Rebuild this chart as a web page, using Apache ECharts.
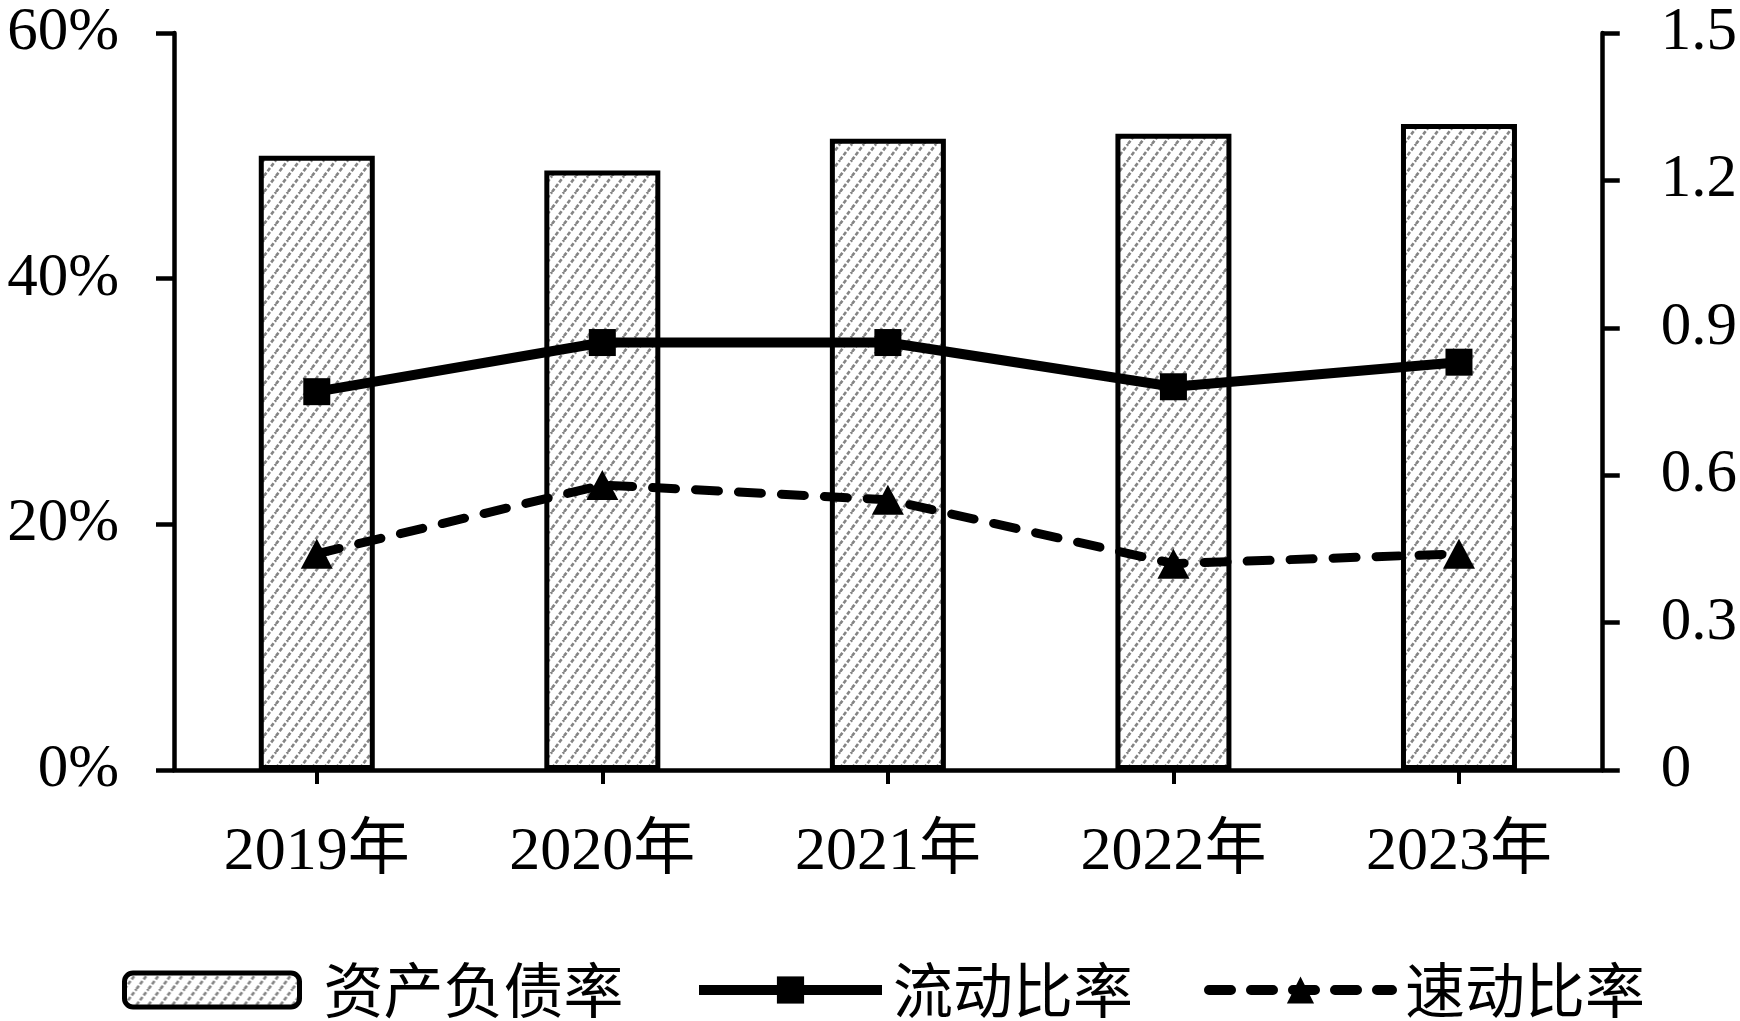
<!DOCTYPE html>
<html><head><meta charset="utf-8">
<script src="https://cdn.jsdelivr.net/npm/echarts@6/dist/echarts.min.js"></script>
<style>html,body{margin:0;padding:0;background:#fff}#c{width:1740px;height:1021px}</style>
</head><body><div id="c"></div>
<script>
const categories = ['2019年', '2020年', '2021年', '2022年', '2023年'];
const debtRatio = [50.0, 48.8, 51.4, 51.8, 52.6];      // 资产负债率 (%)
const currentRatio = [0.77, 0.87, 0.87, 0.78, 0.83];   // 流动比率
const quickRatio = [0.44, 0.58, 0.55, 0.42, 0.44];     // 速动比率
const seriesNames = ['资产负债率', '流动比率', '速动比率'];

function makePattern() {
  const w = 12, h = 16;
  const c = document.createElement('canvas');
  c.width = w; c.height = h;
  const g = c.getContext('2d');
  g.fillStyle = '#ffffff';
  g.fillRect(0, 0, w, h);
  g.strokeStyle = '#858585';
  g.lineWidth = 2.6;
  g.setLineDash([4, 2]);
  for (let k = -1; k <= 1; k++) {
    g.beginPath();
    g.moveTo(k * w, h);
    g.lineTo(k * w + w, 0);
    g.stroke();
  }
  return c;
}
const pattern = { image: makePattern(), repeat: 'repeat' };
const FONT = '"Liberation Serif","Times New Roman","Noto Sans CJK SC",serif';
const LFONT = '"Noto Sans CJK SC","Liberation Serif",serif';

const chart = echarts.init(document.getElementById('c'), null, { renderer: 'canvas' });
chart.setOption({
  animation: false,
  backgroundColor: '#ffffff',
  grid: { left: 174, right: 134, top: 33, bottom: 251, containLabel: false },
  legend: [
    { data: [seriesNames[0]], left: 122, top: 960, padding: 0, itemWidth: 175, itemHeight: 34,
      itemStyle: { borderWidth: 5, borderColor: '#000' },
      textStyle: { fontFamily: LFONT, fontSize: 60, color: '#000', padding: [0, 0, 0, 19] } },
    { data: [seriesNames[1]], left: 694, top: 960, padding: 0, itemWidth: 183, itemHeight: 34,
      lineStyle: { width: 10, color: '#000' },
      textStyle: { fontFamily: LFONT, fontSize: 60, color: '#000', padding: [0, 0, 0, 6] } },
    { data: [seriesNames[2]], left: 1204, top: 960, padding: 0, itemWidth: 183, itemHeight: 34,
      lineStyle: { width: 10, color: '#000', type: [22, 20], cap: 'round' },
      textStyle: { fontFamily: LFONT, fontSize: 60, color: '#000', padding: [0, 0, 0, 8] } }
  ],
  xAxis: {
    type: 'category',
    data: categories,
    boundaryGap: true,
    axisLine: { show: true, lineStyle: { color: '#000', width: 4.5 } },
    axisTick: { show: true, alignWithLabel: true, length: 14, lineStyle: { color: '#000', width: 4 } },
    axisLabel: { fontFamily: FONT, fontSize: 62, color: '#000', margin: 52 },
    splitLine: { show: false }
  },
  yAxis: [
    {
      type: 'value', min: 0, max: 60, interval: 20, position: 'left',
      axisLine: { show: true, lineStyle: { color: '#000', width: 4.5 } },
      axisTick: { show: true, inside: false, length: 18, lineStyle: { color: '#000', width: 4.5 } },
      axisLabel: { fontFamily: FONT, fontSize: 61, color: '#000', margin: 55, formatter: v => v + '%' },
      splitLine: { show: false }
    },
    {
      type: 'value', min: 0, max: 1.5, interval: 0.3, position: 'right',
      axisLine: { show: true, lineStyle: { color: '#000', width: 4.5 } },
      axisTick: { show: true, inside: false, length: 18, lineStyle: { color: '#000', width: 4.5 } },
      axisLabel: { fontFamily: FONT, fontSize: 61, color: '#000', margin: 59,
        formatter: v => (v === 0 ? '0' : v.toFixed(1)) },
      splitLine: { show: false }
    }
  ],
  series: [
    {
      name: seriesNames[0], type: 'bar', yAxisIndex: 0, data: debtRatio, barWidth: 116,
      itemStyle: { color: pattern, borderColor: '#000', borderWidth: 5 },
      z: 1
    },
    {
      name: seriesNames[1], type: 'line', yAxisIndex: 1, data: currentRatio,
      symbol: 'rect', symbolSize: 27,
      lineStyle: { color: '#000', width: 10 },
      itemStyle: { color: '#000' },
      z: 3
    },
    {
      name: seriesNames[2], type: 'line', yAxisIndex: 1, data: quickRatio,
      symbol: 'triangle', symbolSize: [32, 30],
      lineStyle: { color: '#000', width: 9, type: [23, 20], cap: 'round' },
      itemStyle: { color: '#000' },
      z: 3
    }
  ]
});
</script></body></html>
